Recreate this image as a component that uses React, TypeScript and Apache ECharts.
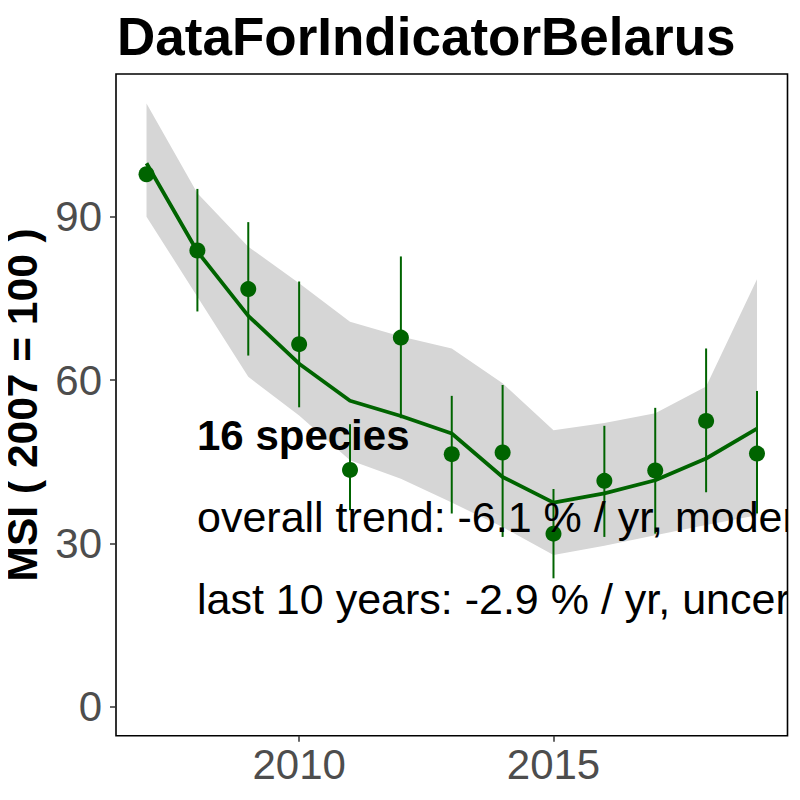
import React, { useEffect, useRef } from "react";
import * as echarts from "echarts";

const years = [2007, 2008, 2009, 2010, 2011, 2012, 2013, 2014, 2015, 2016, 2017, 2018, 2019];
const msi = [97.8, 83.8, 76.7, 66.6, 43.5, 67.8, 46.4, 46.7, 31.8, 41.5, 43.4, 52.5, 46.5];
const msiLow = [null, 72.6, 64.5, 55.0, 36.1, 53.0, 35.5, 31.2, 23.6, 31.2, 31.8, 39.4, 35.5];
const msiHigh = [null, 95.1, 89.0, 78.1, 51.9, 82.7, 57.1, 59.1, 40.0, 51.6, 54.9, 65.8, 58.0];
const trend = [99.8, 83.6, 71.8, 63.0, 56.2, 53.4, 50.2, 42.2, 37.5, 39.2, 41.6, 45.6, 51.1];
const trendLow = [90.0, 75.3, 60.6, 53.5, 45.3, 41.9, 37.5, 33.0, 27.9, 29.6, 31.5, 33.4, 35.2];
const trendHigh = [110.8, 94.3, 84.5, 77.8, 70.7, 68.0, 65.8, 59.4, 50.8, 52.1, 53.9, 58.8, 78.5];

const xTicks = [2010, 2015];
const yTicks = [0, 30, 60, 90];

const titleText = "DataForIndicatorBelarus";
const yAxisTitle = "MSI ( 2007 = 100 )";
const speciesText = "16 species";
const overallText = "overall trend: -6.1 % / yr, moder";
const lastTenText = "last 10 years: -2.9 % / yr, uncer";

const GREEN = "#006400";
const FONT = "'Liberation Sans', Arial, Helvetica, sans-serif";

export default function App() {
  const ref = useRef<HTMLDivElement>(null);

  useEffect(() => {
    if (!ref.current) return;
    const chart = echarts.init(ref.current, undefined, { renderer: "svg" });

    const option: any = {
      animation: false,
      backgroundColor: "#ffffff",
      textStyle: { fontFamily: FONT },
      grid: {
        left: 116,
        right: 12.5,
        top: 74,
        bottom: 64.3,
        show: true,
        containLabel: false,
        outerBoundsMode: "none",
        borderColor: "#000000",
        borderWidth: 1.6,
        backgroundColor: "transparent",
      },
      xAxis: {
        type: "value",
        min: 2006.4,
        max: 2019.6,
        axisLine: { show: false, onZero: false },
        splitLine: { show: false },
        axisTick: {
          show: true,
          length: 6,
          customValues: xTicks,
          lineStyle: { color: "#333333", width: 1.5 },
        },
        axisLabel: {
          show: true,
          customValues: xTicks,
          formatter: (v: number) => String(v),
          fontSize: 42,
          color: "#4D4D4D",
          margin: 8,
          fontFamily: FONT,
        },
      },
      yAxis: {
        type: "value",
        min: -5.3,
        max: 116.2,
        name: yAxisTitle,
        nameLocation: "middle",
        nameRotate: 90,
        nameGap: 66,
        nameTextStyle: { fontSize: 42.5, fontWeight: "bold", color: "#000000", fontFamily: FONT },
        axisLine: { show: false, onZero: false },
        splitLine: { show: false },
        axisTick: {
          show: true,
          length: 6,
          customValues: yTicks,
          lineStyle: { color: "#333333", width: 1.5 },
        },
        axisLabel: {
          show: true,
          customValues: yTicks,
          formatter: (v: number) => String(v),
          fontSize: 42,
          color: "#4D4D4D",
          margin: 14,
          fontFamily: FONT,
        },
      },
      series: [
        {
          type: "custom",
          name: "band",
          silent: true,
          z: 1,
          clip: true,
          data: years.map((y, i) => [y, trendLow[i], trendHigh[i]]),
          encode: { x: 0, y: [1, 2] },
          renderItem: (params: any, api: any) => {
            if (params.dataIndex !== 0) return null;
            const pts: number[][] = [];
            for (let i = 0; i < years.length; i++) pts.push(api.coord([years[i], trendHigh[i]]));
            for (let i = years.length - 1; i >= 0; i--) pts.push(api.coord([years[i], trendLow[i]]));
            return {
              type: "polygon",
              shape: { points: pts },
              style: { fill: "#D6D6D6", stroke: "none" },
            };
          },
        },
        {
          type: "line",
          name: "trend",
          z: 3,
          data: years.map((y, i) => [y, trend[i]]),
          symbol: "none",
          lineStyle: { color: GREEN, width: 3.8 },
          silent: true,
        },
        {
          type: "custom",
          name: "errorbars",
          silent: true,
          z: 4,
          data: years
            .map((y, i) => [y, msiLow[i], msiHigh[i]])
            .filter((d) => d[1] !== null),
          encode: { x: 0, y: [1, 2] },
          renderItem: (params: any, api: any) => {
            const x = api.value(0);
            const a = api.coord([x, api.value(1)]);
            const b = api.coord([x, api.value(2)]);
            return {
              type: "line",
              shape: { x1: a[0], y1: a[1], x2: b[0], y2: b[1] },
              style: { stroke: GREEN, lineWidth: 2 },
            };
          },
        },
        {
          type: "scatter",
          name: "MSI",
          z: 5,
          data: years.map((y, i) => [y, msi[i]]),
          symbol: "circle",
          symbolSize: 16,
          itemStyle: { color: GREEN, opacity: 1 },
          silent: true,
        },
        {
          type: "custom",
          name: "notes",
          silent: true,
          clip: true,
          z: 10,
          data: [[2010, 50]],
          encode: { x: 0, y: 1 },
          renderItem: () => ({
            type: "group",
            children: [
              {
                type: "text",
                x: 197,
                y: 435,
                style: {
                  text: speciesText,
                  font: `bold 42px ${FONT}`,
                  fill: "#000000",
                  verticalAlign: "middle",
                  align: "left",
                },
              },
              {
                type: "text",
                x: 197,
                y: 517,
                style: {
                  text: overallText,
                  font: `43px ${FONT}`,
                  fill: "#000000",
                  verticalAlign: "middle",
                  align: "left",
                },
              },
              {
                type: "text",
                x: 197,
                y: 599,
                style: {
                  text: lastTenText,
                  font: `43px ${FONT}`,
                  fill: "#000000",
                  verticalAlign: "middle",
                  align: "left",
                },
              },
            ],
          }),
        },
      ],
      graphic: [
        {
          type: "text",
          x: 117,
          y: 36,
          z: 100,
          style: {
            text: titleText,
            font: `bold 53px ${FONT}`,
            fill: "#000000",
            verticalAlign: "middle",
            align: "left",
          },
        },
      ],
    };

    chart.setOption(option);
    return () => {
      chart.dispose();
    };
  }, []);

  return <div ref={ref} style={{ width: 800, height: 800, margin: -8 }} />;
}
